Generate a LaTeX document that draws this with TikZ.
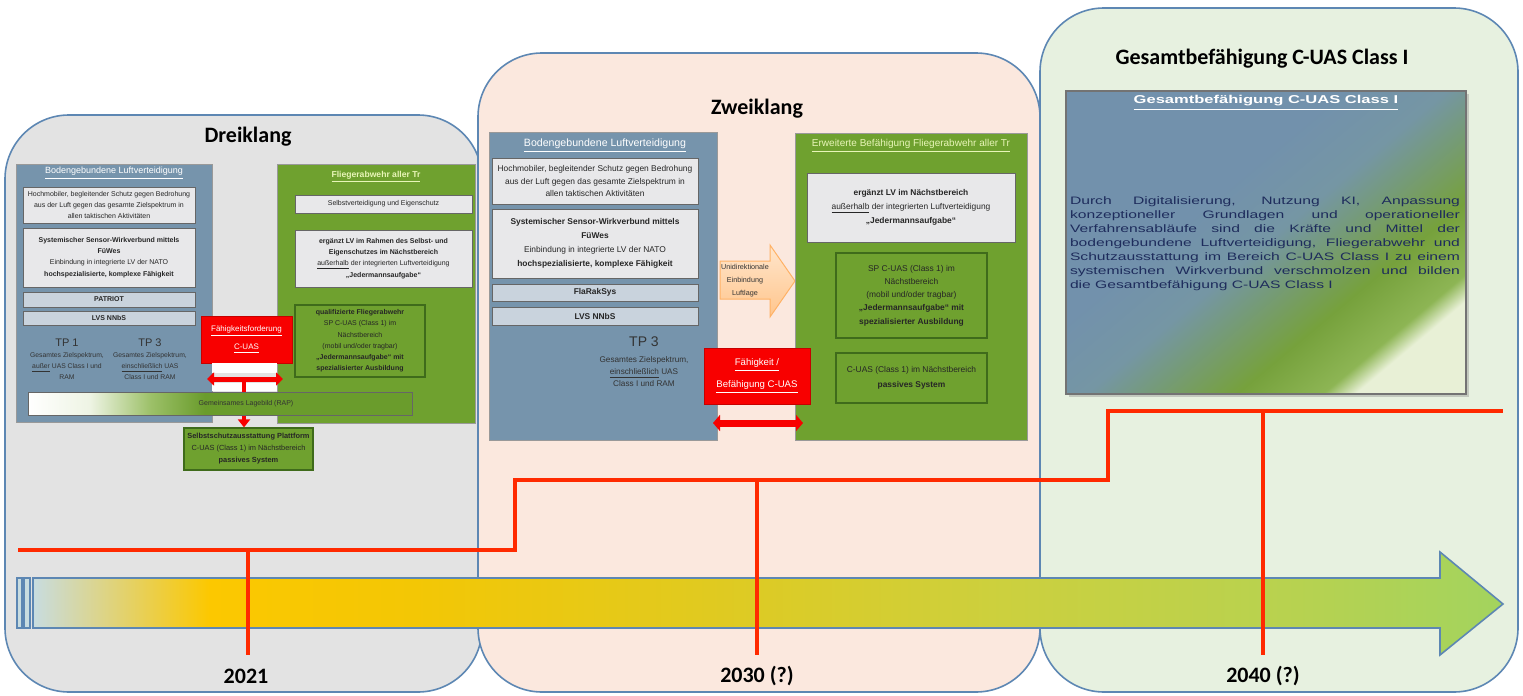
\documentclass[tikz,border=0pt]{standalone}
\usepackage{fontspec}
\setmainfont{Liberation Sans}
\newfontfamily\calibri{Carlito}
\newfontfamily\widesans[FakeStretch=1.45]{Liberation Sans}
\usetikzlibrary{arrows.meta,shadows}

\definecolor{panelgray}{HTML}{E3E3E3}
\definecolor{panelpeach}{HTML}{FBE8DE}
\definecolor{panelgreen}{HTML}{E7F1E0}
\definecolor{panelline}{HTML}{5D87B3}
\definecolor{lvblue}{HTML}{7694AC}
\definecolor{boxgray}{HTML}{E8E8EA}
\definecolor{boxblue}{HTML}{C9D3DD}
\definecolor{flagreen}{HTML}{6FA12F}
\definecolor{darkgreen}{HTML}{3F6B1B}
\definecolor{capred}{HTML}{F80000}
\definecolor{stepred}{HTML}{FF2A00}
\definecolor{titlelight}{HTML}{E8F5B8}
\definecolor{navytext}{HTML}{1E2C5C}
\definecolor{tl0}{HTML}{C8DCE0}
\definecolor{tl1}{HTML}{FCC800}
\definecolor{tl2}{HTML}{F3C705}
\definecolor{tl3}{HTML}{E0CA20}
\definecolor{tl4}{HTML}{CCD03E}
\definecolor{tl5}{HTML}{B7D250}
\definecolor{tl6}{HTML}{A3D35E}
\definecolor{lb0}{HTML}{FFFFFF}
\definecolor{lb1}{HTML}{EEF4E4}
\definecolor{lb2}{HTML}{9CC068}
\definecolor{lb3}{HTML}{6A9C2C}
\definecolor{gs0}{HTML}{E8F0D6}
\definecolor{gs1}{HTML}{8DB554}
\definecolor{gs2}{HTML}{76A13C}
\definecolor{gs3}{HTML}{7596A4}
\definecolor{gs4}{HTML}{7291AC}

\pgfdeclarehorizontalshading{timeline}{100bp}{color(0bp)=(tl0); color(25bp)=(tl0); color(31bp)=(tl1); color(38bp)=(tl2); color(48bp)=(tl3); color(58bp)=(tl4); color(68bp)=(tl5); color(75bp)=(tl6); color(100bp)=(tl6)}
\pgfdeclarehorizontalshading{lagebar}{100bp}{color(0bp)=(lb0); color(25bp)=(lb0); color(33bp)=(lb1); color(41bp)=(lb2); color(48bp)=(lb3); color(100bp)=(lb3)}
\pgfdeclareverticalshading{gesamtshade}{100bp}{color(0bp)=(gs0); color(25bp)=(gs0); color(28bp)=(gs1); color(36bp)=(gs2); color(50bp)=(gs3); color(60bp)=(gs4); color(100bp)=(gs4)}

\newcommand\dreifont{\fontsize{3.5}{5.6}\selectfont}
\newcommand\zweifont{\fontsize{4.2}{6.3}\selectfont}

\begin{document}
\begin{tikzpicture}[x=0.5pt,y=-0.5pt,
    panel/.style={draw=panelline,line width=0.8pt,rounded corners=32pt},
    paneltitle/.style={font=\calibri\bfseries\fontsize{11}{13}\selectfont,inner sep=0pt},
    year/.style={font=\calibri\bfseries\fontsize{11}{13}\selectfont,inner sep=0pt},
    lvbox/.style={draw=black!40,fill=lvblue,inner sep=0pt},
    flabox/.style={draw=black!40,fill=flagreen,inner sep=0pt},
    greybox/.style={draw=black!60,fill=boxgray,inner sep=0pt,align=center,text=black!85},
    sysbox/.style={greybox,fill=boxblue},
    innergreen/.style={draw=darkgreen,fill=flagreen,line width=0.6pt,inner sep=0pt,align=center,text=black!85},
    capbox/.style={fill=capred,draw=capred!80!black,inner sep=0pt,align=center,text=white},
    boxtitle/.style={inner sep=0pt,text=white},
    plaintext/.style={inner sep=0pt,align=center,text=black!80},
    capboth/.style={draw=capred,{Triangle[width=6.5pt,length=3.5pt]}-{Triangle[width=6.5pt,length=3.5pt]}},
    stepline/.style={draw=stepred,line width=2pt}
  ]
  \useasboundingbox (0,0) rectangle (1523,696);

  % three stages
  \draw[panel,fill=panelgray] (5,115) rectangle (482,692);
  \draw[panel,fill=panelpeach] (478,53) rectangle (1040,692);
  \draw[panel,fill=panelgreen] (1040,8) rectangle (1518,692);
  \node[paneltitle] (dreiklang) at (248,137) {Dreiklang};
  \node[paneltitle] (zweiklang) at (757,109) {Zweiklang};
  \node[paneltitle] (gesamttitle) at (1262,59) {Gesamtbefähigung C-UAS Class I};

  % timeline
  \shadedraw[shading=timeline,draw=panelline,line width=0.8pt] (33,578) -- (1440,578) -- (1440,552) -- (1503,604) -- (1440,655) -- (1440,628) -- (33,628) -- cycle;
  \filldraw[fill=tl0,draw=panelline,line width=0.8pt] (17,578) rectangle (22,628);
  \filldraw[fill=tl0,draw=panelline,line width=0.8pt] (24,578) rectangle (30,628);

  \draw[stepline] (18,550) -- (515,550) -- (515,480) -- (1108,480) -- (1108,411) -- (1503,411);
  \draw[stepline] (248,550) -- (248,655);
  \draw[stepline] (757,480) -- (757,655);
  \draw[stepline] (1263,411) -- (1263,655);
  \node[year] (y2021) at (246,676) {2021};
  \node[year] (y2030) at (757,676) {2030 (?)};
  \node[year] (y2040) at (1263,676) {2040 (?)};

  % Dreiklang
  \node[lvbox,minimum width=98pt,minimum height=129pt] (lvA) at (114,293) {};
  \node[boxtitle,font=\fontsize{4.5}{5}\selectfont] (lvAtitle) at (114,173) {\underline{Bodengebundene Luftverteidigung}};
  \node[greybox,font=\dreifont,minimum width=86pt,minimum height=18pt] (lvAa) at (109,205) {Hochmobiler, begleitender Schutz gegen Bedrohung\\aus der Luft gegen das gesamte Zielspektrum in\\allen taktischen Aktivitäten};
  \node[greybox,font=\dreifont,minimum width=86pt,minimum height=29.5pt] (lvAb) at (109,257.5) {\textbf{Systemischer Sensor-Wirkverbund mittels}\\\textbf{FüWes}\\Einbindung in integrierte LV der NATO\\\textbf{hochspezialisierte, komplexe Fähigkeit}};
  \node[sysbox,font=\dreifont,minimum width=86pt,minimum height=7.5pt] (patriot) at (109,299.5) {\textbf{PATRIOT}};
  \node[sysbox,font=\dreifont,minimum width=86pt,minimum height=7pt] (lvsA) at (109,318) {\textbf{LVS NNbS}};
  \node[plaintext,font=\fontsize{5.5}{6}\selectfont] (tp1) at (67,343) {TP 1};
  \node[plaintext,font=\fontsize{3.4}{5.5}\selectfont] (tp1txt) at (67,366) {Gesamtes Zielspektrum,\\\underline{außer} UAS Class I und\\RAM};
  \node[plaintext,font=\fontsize{5.5}{6}\selectfont] (tp3A) at (150,343) {TP 3};
  \node[plaintext,font=\fontsize{3.4}{5.5}\selectfont] (tp3Atxt) at (150,366) {Gesamtes Zielspektrum,\\\underline{einschließlich} UAS\\Class I und RAM};

  \node[flabox,minimum width=99pt,minimum height=129.5pt] (flaA) at (376,293.5) {};
  \node[boxtitle,text=titlelight,font=\bfseries\fontsize{4.3}{5}\selectfont] (flaAtitle) at (376,177) {\underline{Fliegerabwehr aller Tr}};
  \node[greybox,font=\dreifont,minimum width=88.5pt,minimum height=9pt] (flaAa) at (383.5,204) {Selbstverteidigung und Eigenschutz};
  \node[greybox,font=\dreifont,minimum width=88.5pt,minimum height=28.5pt] (flaAb) at (383.5,258.5) {\textbf{ergänzt LV im Rahmen des Selbst- und}\\\textbf{Eigenschutzes im Nächstbereich}\\\underline{außerhalb} der integrierten Luftverteidigung\\\textbf{„Jedermannsaufgabe“}};
  \node[innergreen,font=\dreifont,minimum width=65pt,minimum height=36pt] (flaAc) at (360,341) {\textbf{qualifizierte Fliegerabwehr}\\SP C-UAS (Class 1) im\\Nächstbereich\\(mobil und/oder tragbar)\\\textbf{„Jedermannsaufgabe“ mit}\\\textbf{spezialisierter Ausbildung}};

  \node[capbox,font=\fontsize{4}{9}\selectfont,minimum width=45.5pt,minimum height=23.5pt] (forderung) at (246.5,339.5) {\underline{Fähigkeitsforderung}\\\underline{C-UAS}};
  \fill[white] (212,363) rectangle (277,373);
  \fill[white] (212,383) rectangle (277,391);
  \coordinate (linksA) at (207,379);
  \coordinate (rechtsA) at (283,379);
  \coordinate (mitteA) at (244,379);
  \node[innergreen,fill=flagreen,font=\fontsize{3.7}{6}\selectfont,minimum width=64.5pt,minimum height=21pt] (plattform) at (248.5,449) {\textbf{Selbstschutzausstattung Plattform}\\C-UAS (Class 1) im Nächstbereich\\\textbf{passives System}};
  \draw[draw=capred,line width=2pt,-{Triangle[width=6pt,length=4pt]}] (mitteA) -- (mitteA |- plattform.north);
  \node[shading=lagebar,draw=black!60,inner sep=0pt,minimum width=192pt,minimum height=11.5pt] (lage) at (220,403.5) {};
  \node[plaintext,font=\dreifont] (lagetext) at (246,404) {Gemeinsames Lagebild (RAP)};
  \draw[capboth,line width=2.5pt] (linksA) -- (rechtsA);

  % Zweiklang
  \node[lvbox,minimum width=114pt,minimum height=154pt] (lvB) at (603,286) {};
  \node[boxtitle,font=\fontsize{5.3}{6}\selectfont] (lvBtitle) at (605,146) {\underline{Bodengebundene Luftverteidigung}};
  \node[greybox,font=\zweifont,minimum width=103pt,minimum height=23pt] (lvBa) at (595,181) {Hochmobiler, begleitender Schutz gegen Bedrohung\\aus der Luft gegen das gesamte Zielspektrum in\\allen taktischen Aktivitäten};
  \node[greybox,font=\fontsize{4.2}{7}\selectfont,minimum width=103pt,minimum height=34.5pt] (lvBb) at (595,243.5) {\textbf{Systemischer Sensor-Wirkverbund mittels}\\\textbf{FüWes}\\Einbindung in integrierte LV der NATO\\\textbf{hochspezialisierte, komplexe Fähigkeit}};
  \node[sysbox,font=\zweifont,minimum width=103pt,minimum height=8.5pt] (flarak) at (595,292.5) {\textbf{FlaRakSys}};
  \node[sysbox,font=\zweifont,minimum width=103pt,minimum height=9pt] (lvsB) at (595,316) {\textbf{LVS NNbS}};
  \node[plaintext,font=\fontsize{7}{8}\selectfont] (tp3B) at (644,342) {TP 3};
  \node[plaintext,font=\fontsize{4.1}{6}\selectfont] (tp3Btxt) at (644,372) {Gesamtes Zielspektrum,\\\underline{einschließlich} UAS\\Class I und RAM};

  \shadedraw[top color=orange!20,bottom color=orange!45,draw=orange!60,line width=0.5pt] (720,261) -- (770,261) -- (770,245) -- (795,281) -- (770,317) -- (770,299) -- (720,299) -- cycle;
  \node[plaintext,font=\fontsize{3.6}{6.5}\selectfont] (einbindung) at (745,281) {Unidirektionale\\Einbindung\\Luftlage};

  \node[flabox,minimum width=116pt,minimum height=153.5pt] (flaB) at (911,286.5) {};
  \node[boxtitle,text=titlelight,font=\fontsize{5}{6}\selectfont] (flaBtitle) at (911,146) {\underline{Erweiterte Befähigung Fliegerabwehr aller Tr}};
  \node[greybox,font=\fontsize{4.2}{7}\selectfont,minimum width=104pt,minimum height=34.5pt] (flaBa) at (911,207.5) {\textbf{ergänzt LV im Nächstbereich}\\\underline{außerhalb} der integrierten Luftverteidigung\\\textbf{„Jedermannsaufgabe“}};
  \node[innergreen,font=\fontsize{4.2}{6.6}\selectfont,minimum width=75.5pt,minimum height=42.5pt] (flaBb) at (911.5,295.5) {SP C-UAS (Class 1) im\\Nächstbereich\\(mobil und/oder tragbar)\\\textbf{„Jedermannsaufgabe“ mit}\\\textbf{spezialisierter Ausbildung}};
  \node[innergreen,font=\fontsize{4.2}{7.5}\selectfont,minimum width=75.5pt,minimum height=25pt] (flaBc) at (911.5,378) {C-UAS (Class 1) im Nächstbereich\\\textbf{passives System}};

  \node[capbox,font=\fontsize{4.8}{11}\selectfont,minimum width=53pt,minimum height=28pt] (befaehigung) at (757,376.5) {\underline{Fähigkeit /}\\\underline{Befähigung C-UAS}};
  \coordinate (linksB) at (713,423);
  \coordinate (rechtsB) at (803,423);
  \draw[capboth,line width=3.5pt,{Triangle[width=8pt,length=3.5pt]}-{Triangle[width=8pt,length=3.5pt]}] (linksB) -- (rechtsB);

  % Gesamtbefaehigung
  \node[shading=gesamtshade,shading angle=40,draw=black!55,line width=0.6pt,inner sep=0pt,minimum width=200pt,minimum height=151.5pt,drop shadow={shadow xshift=1.5pt,shadow yshift=-1.5pt,opacity=0.35}] (gesamt) at (1266,242.5) {};
  \node[boxtitle,font=\widesans\bfseries\fontsize{5.7}{6}\selectfont] (gesamtboxtitle) at (1266,103) {\underline{Gesamtbefähigung C-UAS Class I}};
  \node[inner sep=0pt,text width=195pt,align=justify,text=navytext,font=\widesans\fontsize{5.4}{7}\selectfont] (gesamttext) at (1265,244) {Durch Digitalisierung, Nutzung KI, Anpassung\linebreak konzeptioneller Grundlagen und operationeller\linebreak Verfahrensabläufe sind die Kräfte und Mittel der\linebreak bodengebundene Luftverteidigung, Fliegerabwehr und\linebreak Schutzausstattung im Bereich C-UAS Class I zu einem\linebreak systemischen Wirkverbund verschmolzen und bilden\linebreak die Gesamtbefähigung C-UAS Class I};
\end{tikzpicture}
\end{document}
